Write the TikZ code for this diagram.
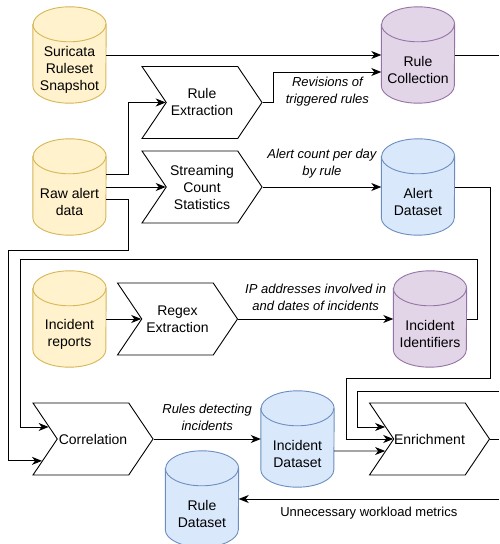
\documentclass[tikz,border=0pt]{standalone}
\usepackage{fontspec}
\setmainfont{Liberation Sans}
\usepackage{tikz}
\usetikzlibrary{arrows.meta}
\usetikzlibrary{positioning}
\usetikzlibrary{calc}
\usetikzlibrary{backgrounds}
\usetikzlibrary{shapes.symbols}

\definecolor{yelfill}{HTML}{FFF2CC}
\definecolor{yelline}{HTML}{D6B656}
\definecolor{purfill}{HTML}{E1D5E7}
\definecolor{purline}{HTML}{9673A6}
\definecolor{blufill}{HTML}{DAE8FC}
\definecolor{bluline}{HTML}{6C8EBF}

\tikzset{
  store/.style={rectangle, minimum width=73pt, minimum height=66pt, inner sep=0pt,
    align=center, font=\fontsize{14}{17}\selectfont},
  stage/.style={signal, signal from=west, signal to=east, signal pointer angle=112,
    draw, line width=0.9pt, minimum width=120pt, minimum height=72pt, inner sep=0pt,
    align=center, font=\fontsize{14}{17}\selectfont},
  flow/.style={-{Stealth[length=10pt,width=8pt,inset=3pt]}, line width=0.9pt},
  tag/.style={align=center, font=\fontsize{13}{17}\selectfont\itshape}
}

\begin{document}
\begin{tikzpicture}[x=1pt,y=1pt]
\useasboundingbox (0,0) rectangle (499,544);
% sources
\node[store] (sur) at (69.5,474) {Suricata\\Ruleset\\Snapshot};
\node[store] (raw) at (69.5,342) {Raw alert\\data};
\node[store] (inc) at (69.5,210) {Incident\\reports};
% processing steps
\node[stage] (rext) at (202,441.5) {Rule\\Extraction};
\node[stage] (stream) at (202,357) {Streaming\\Count\\Statistics};
\node[stage] (regex) at (177.5,225) {Regex\\Extraction};
\node[stage] (corr) at (93,105) {Correlation};
\node[stage] (enr) at (429.5,105) {Enrichment};
% results
\node[store] (rcol) at (418,474) {Rule\\Collection};
\node[store] (alert) at (418,342) {Alert\\Dataset};
\node[store] (iid) at (430,210) {Incident\\Identifiers};
\node[store] (idat) at (297.5,90) {Incident\\Dataset};
\node[store] (rdat) at (202,30) {Rule\\Dataset};
% free ends at the right border
\coordinate (outA) at (499,489);
\coordinate (inB) at (499,153);
\coordinate (outC) at (499,105);
\coordinate (inD) at (499,45);

% cylinders behind the store texts
\begin{scope}[on background layer]
\foreach \n/\f/\l in {sur/yelfill/yelline, raw/yelfill/yelline, inc/yelfill/yelline,
    rcol/purfill/purline, iid/purfill/purline,
    alert/blufill/bluline, idat/blufill/bluline, rdat/blufill/bluline} {
  \draw[draw=\l, fill=\f, line width=0.9pt] ([yshift=12.5pt]\n.north west)
    -- ([yshift=17.5pt]\n.south west) arc[start angle=180, end angle=360, x radius=36.5, y radius=17.5]
    -- ([yshift=12.5pt]\n.north east) arc[start angle=0, end angle=180, x radius=36.5, y radius=17.5]
    -- cycle;
  \draw[draw=\l, line width=0.9pt] ([yshift=12.5pt]\n.north west)
    arc[start angle=180, end angle=360, x radius=36.5, y radius=17.5];
}
\end{scope}

\draw[flow] ([yshift=15pt]sur.east) -- ([yshift=15pt]rcol.west);
\draw[flow] ([yshift=28pt]raw.east) -- ++(22,0) |- (rext.west);
\draw[flow] ([yshift=15pt]raw.east) -- (stream.west);
\draw[flow] ([yshift=3pt]raw.east) -- ++(22,0) -- ++(0,-51)
  -- ++(-120,0) |- ($(corr.west)!0.6!(corr.south west)$);
\draw[flow] (rext.east) -- ++(11,0) |- ([yshift=-2pt]rcol.west)
  node[tag, pos=0.75, below=1pt] {Revisions of\\triggered rules};
\draw[flow] (stream.east) -- ([yshift=15pt]alert.west)
  node[tag, midway, above=5pt] {Alert count per day\\by rule};
\draw[flow] ([yshift=15pt]inc.east) -- (regex.west);
\draw[flow] (regex.east) -- ([yshift=15pt]iid.west)
  node[tag, midway, above=5pt] {IP addresses involved in\\and dates of incidents};
\draw[flow] ([yshift=15pt]iid.east) -- ++(11,0) -- ++(0,60) -- ++(-457,0)
  |- ($(corr.west)!0.33!(corr.north west)$);
\draw[flow] ([yshift=15pt]alert.east) -- ++(36,0) -- ++(0,-191) -- ++(-144,0)
  |- (enr.west);
\draw[flow] (corr.east) -- ([yshift=15pt]idat.west)
  node[tag, midway, above=5pt] {Rules detecting\\incidents};
\draw[flow] ([yshift=3pt]idat.east) -- ($(enr.west)!0.33!(enr.south west)$);
\draw[flow] (inB) -- ++(-142,0) |- ($(enr.west)!0.33!(enr.north west)$);
\draw[line width=0.9pt] ([yshift=15pt]rcol.east) -- (outA);
\draw[line width=0.9pt] (enr.east) -- (outC);
\draw[flow] (inD) -- ([yshift=15pt]rdat.east)
  node[midway, below=4pt, font=\fontsize{13}{17}\selectfont] {Unnecessary workload metrics};
\end{tikzpicture}
\end{document}
